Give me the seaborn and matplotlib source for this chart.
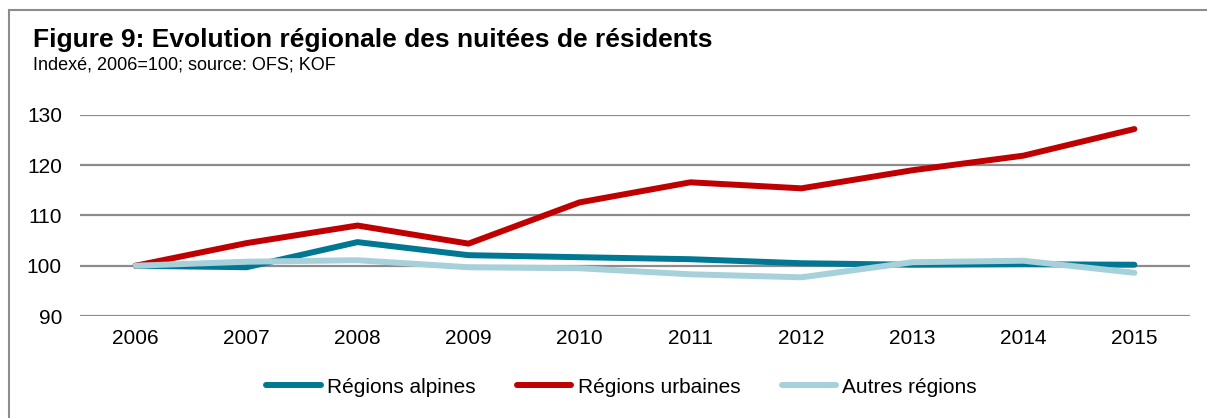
import numpy as np
import pandas as pd
import matplotlib
matplotlib.use("Agg")
import matplotlib.pyplot as plt
import seaborn as sns
from matplotlib.patches import Rectangle
from matplotlib.lines import Line2D

years = ["2006", "2007", "2008", "2009", "2010", "2011", "2012", "2013", "2014", "2015"]
alpines = [100.0, 99.7, 104.7, 102.1, 101.7, 101.3, 100.5, 100.2, 100.3, 100.2]
urbaines = [100.0, 104.5, 108.0, 104.4, 112.6, 116.6, 115.4, 119.0, 121.9, 127.2]
autres = [100.0, 100.8, 101.1, 99.7, 99.5, 98.3, 97.7, 100.7, 101.0, 98.6]
series_names = ["Régions alpines", "Régions urbaines", "Autres régions"]
colors = ["#007894", "#C00000", "#A6D1DA"]
yticks = [90, 100, 110, 120, 130]

sns.set_theme(style="white")
plt.rcParams["font.family"] = ["Liberation Sans", "DejaVu Sans"]
plt.rcParams["text.color"] = "black"

df = pd.DataFrame({
    "year": years * 3,
    "x": list(range(len(years))) * 3,
    "value": alpines + urbaines + autres,
    "serie": [series_names[0]] * len(years) + [series_names[1]] * len(years) + [series_names[2]] * len(years),
})

fig = plt.figure(figsize=(12.07, 4.18), dpi=100)
ax = fig.add_axes([0.0663, 0.244, 0.9195, 0.481])

for yv in yticks:
    ax.axhline(yv, color="#8c8c8c", lw=1.6, zorder=0)

sns.lineplot(data=df, x="x", y="value", hue="serie", palette=colors,
             hue_order=series_names, linewidth=4.3, ax=ax, legend=False,
             sort=False, solid_capstyle="round")

ax.set_xlim(-0.5, 9.5)
ax.set_ylim(90, 130)
ax.set_xticks(range(len(years)))
ax.set_xticklabels(years)
ax.set_yticks(yticks)
ax.set_yticklabels([str(v) for v in yticks])
ax.tick_params(axis="both", length=0, labelsize=15, colors="#000000")
ax.tick_params(axis="x", pad=9)
ax.tick_params(axis="y", pad=13)
ax.set_xlabel("")
ax.set_ylabel("")
for s in ax.spines.values():
    s.set_visible(False)

handles = [Line2D([0], [0], color=c, lw=4.3, solid_capstyle="round") for c in colors]
fig.legend(handles, series_names, loc="center", bbox_to_anchor=(0.515, 0.074),
           ncol=3, frameon=False, fontsize=15, handlelength=2.6,
           handletextpad=0.3, columnspacing=2.0)

fig.text(0.027, 0.905, "Figure 9: Evolution régionale des nuitées de résidents",
         fontsize=19, fontweight="bold", va="center", ha="left")
fig.text(0.027, 0.845, "Indexé, 2006=100; source: OFS; KOF",
         fontsize=13, va="center", ha="left")

fig.patches.append(Rectangle((0.0075, -0.1), 1.2, 1.077, transform=fig.transFigure,
                             fill=False, edgecolor="#8c8c8c", lw=1.5))

fig.savefig("out.png", dpi=100)
